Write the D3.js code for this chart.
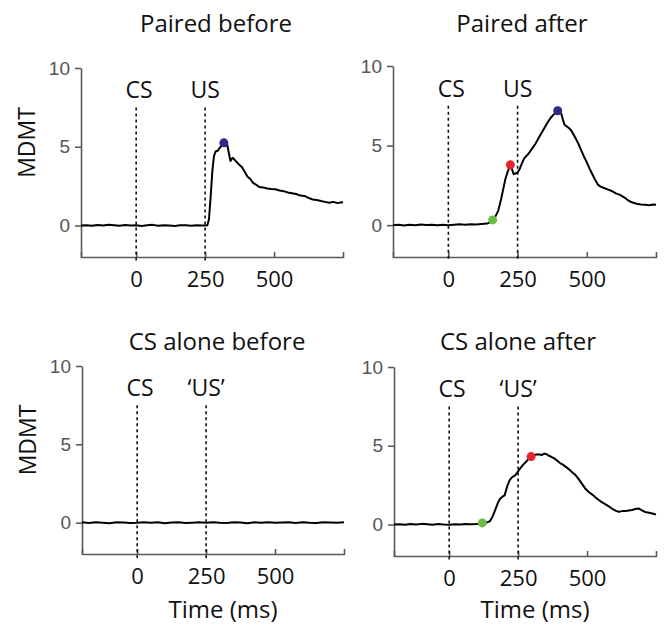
<!DOCTYPE html>
<html>
<head>
<meta charset="utf-8">
<script src="https://cdn.jsdelivr.net/npm/d3@7"></script>
<style>
  body { margin: 0; background: #fff; }
  svg { display: block; }
  .title, .ev, .xlab, .ylab { font-family: "Open Sans", sans-serif; fill: #111; }
  .yax text { font-family: "Liberation Sans", Arial, sans-serif; font-size: 19px; fill: #555; }
  .xax text { font-family: "Open Sans", sans-serif; font-size: 22px; fill: #111; }
</style>
</head>
<body>
<svg id="chart" width="664" height="626"></svg>
<script>
  //Data (time in ms, MDMT values)
  var titles = ['Paired before', 'Paired after', 'CS alone before', 'CS alone after'];
  var eventLabels = [['CS', 'US'], ['CS', 'US'], ['CS', '\u2018US\u2019'], ['CS', '\u2018US\u2019']];
  var eventTimes = [0, 250];
  var xTicks = [0, 250, 500];
  var yTicks = [0, 5, 10];

  var t_pb = [-200,-180,-160,-140,-120,-100,-80,-60,-40,-20,0,20,40,60,80,100,120,140,160,180,200,220,240,258,264,270,276,282,288,296,304,312,318,324,330,336,342,350,358,366,374,384,394,404,414,424,434,446,460,475,490,505,520,535,550,565,580,595,610,625,640,655,670,685,700,715,730,745,750];
  var v_pb = [0.0,0.02,-0.02,0.03,0.0,0.05,0.02,-0.01,0.03,0.0,0.02,-0.03,0.01,0.04,-0.01,0.02,0.0,-0.03,0.02,0.01,-0.02,0.02,0.0,0.01,0.4,1.8,3.4,4.4,4.7,4.75,4.95,5.1,5.25,5.05,5.15,4.6,4.1,4.3,4.15,4.0,3.85,3.7,3.4,3.1,2.95,2.7,2.6,2.45,2.42,2.35,2.32,2.3,2.22,2.18,2.1,2.05,2.0,1.9,1.88,1.75,1.65,1.62,1.55,1.5,1.45,1.5,1.42,1.48,1.46];

  var t_pa = [-200,-180,-160,-140,-120,-100,-80,-60,-40,-20,0,20,40,60,80,100,120,140,150,160,170,180,190,198,206,214,220,224,230,236,242,250,258,266,274,282,290,298,306,314,322,330,340,350,360,370,380,388,395,402,408,414,420,428,436,444,452,460,470,480,490,500,510,520,530,540,550,560,575,590,605,620,635,650,665,680,695,710,725,740,750];
  var v_pa = [0.0,0.03,-0.02,0.02,0.0,0.04,0.01,0.03,-0.01,0.02,0.0,0.03,0.05,0.02,0.06,0.04,0.08,0.1,0.18,0.33,0.55,0.9,1.6,2.25,2.9,3.35,3.6,3.79,3.5,3.2,3.25,3.3,3.55,3.9,4.2,4.35,4.5,4.7,4.9,5.1,5.35,5.6,5.9,6.2,6.5,6.75,6.95,7.05,7.19,7.15,7.0,6.6,6.3,6.2,6.1,5.95,5.7,5.45,5.1,4.7,4.3,3.95,3.55,3.2,2.85,2.55,2.42,2.35,2.25,2.15,2.0,1.9,1.75,1.55,1.42,1.35,1.3,1.28,1.25,1.3,1.28];

  var t_cb = [-200,-175,-150,-125,-100,-75,-50,-25,0,25,50,75,100,125,150,175,200,225,250,275,300,325,350,375,400,425,450,475,500,525,550,575,600,625,650,675,700,725,750];
  var v_cb = [0.02,-0.02,0.03,0.0,-0.03,0.02,0.01,-0.02,0.0,0.03,-0.01,0.02,-0.03,0.01,0.03,-0.02,0.0,0.02,-0.01,0.03,0.0,-0.02,0.02,0.01,-0.03,0.02,0.0,0.03,-0.01,0.01,0.02,-0.02,0.03,0.0,-0.02,0.02,0.01,-0.01,0.02];

  var t_ca = [-200,-180,-160,-140,-120,-100,-80,-60,-40,-20,0,20,40,60,80,100,110,120,135,147,156,165,175,183,192,201,210,219,228,238,247,257,267,277,287,297,307,317,327,337,345,351,360,370,381,392,402,412,423,435,447,459,471,483,495,507,519,531,543,555,567,579,591,603,615,627,639,651,663,675,687,699,710,725,740,750];
  var v_ca = [0.0,0.02,-0.02,0.03,0.0,0.04,0.02,-0.01,0.03,0.0,-0.02,0.02,0.0,0.03,0.01,0.03,0.05,0.1,0.12,0.2,0.45,0.84,1.3,1.6,1.75,1.85,2.4,2.8,3.0,3.1,3.3,3.55,3.77,3.95,4.15,4.31,4.4,4.45,4.44,4.42,4.5,4.48,4.38,4.3,4.2,4.05,3.9,3.8,3.66,3.5,3.3,3.12,2.85,2.55,2.25,2.05,1.9,1.71,1.55,1.4,1.28,1.15,1.0,0.88,0.8,0.85,0.85,0.89,0.92,0.98,1.02,0.9,0.8,0.75,0.68,0.63];

  //Marked points: onset (green), CS response (red), peak (blue)
  var dots_pb = [{ t: 318, v: 5.25, c: 'peak' }];
  var dots_pa = [{ t: 160, v: 0.33, c: 'onset' }, { t: 224, v: 3.79, c: 'cs' }, { t: 395, v: 7.19, c: 'peak' }];
  var dots_cb = [];
  var dots_ca = [{ t: 120, v: 0.1, c: 'onset' }, { t: 297, v: 4.31, c: 'cs' }];

  var dotColor = { onset: '#6cbd45', cs: '#e5252b', peak: '#2e2b86' };

  var panels = [
    { t: t_pb, v: v_pb, dots: dots_pb, x: [81, 343], y: [257, 68], tx: 216, ty: 32, ylab: true, xlab: false },
    { t: t_pa, v: v_pa, dots: dots_pa, x: [393, 656], y: [257, 66], tx: 522, ty: 32, ylab: false, xlab: false },
    { t: t_cb, v: v_cb, dots: dots_cb, x: [82, 344], y: [554, 366], tx: 217, ty: 350, ylab: true, xlab: true },
    { t: t_ca, v: v_ca, dots: dots_ca, x: [394, 656], y: [556, 367], tx: 518, ty: 350, ylab: false, xlab: true }
  ];

  var svg = d3.select('#chart');

  panels.forEach(function(p, i){
    var x = d3.scaleLinear().domain([-200, 750]).range(p.x);
    var y = d3.scaleLinear().domain([-2, 10]).range(p.y);
    var g = svg.append('g');

    //Axes
    g.append('g').attr('class', 'yax')
      .attr('transform', 'translate(' + p.x[0] + ',0)')
      .call(d3.axisLeft(y).tickValues(yTicks).tickSize(6).tickSizeOuter(0).tickPadding(5));
    var xax = g.append('g').attr('class', 'xax')
      .attr('transform', 'translate(0,' + p.y[0] + ')')
      .call(d3.axisBottom(x).tickValues(xTicks).tickSizeInner(-5).tickSizeOuter(-5).tickFormat(d3.format('d')));
    xax.selectAll('text').attr('y', 30).attr('dy', null);
    g.selectAll('.domain, .tick line').attr('stroke', '#5a5a5a').attr('stroke-width', 1.6);

    //Event markers
    eventTimes.forEach(function(et, j){
      g.append('line')
        .attr('x1', x(et)).attr('x2', x(et))
        .attr('y1', y(7.5)).attr('y2', p.y[0] + 4)
        .attr('stroke', '#111').attr('stroke-width', 1.6).attr('stroke-dasharray', '3,3');
      g.append('text').attr('class', 'ev')
        .attr('x', x(et) + (j === 0 ? 3 : 0)).attr('y', y(7.5) - 9)
        .attr('text-anchor', 'middle').style('font-size', '23px')
        .text(eventLabels[i][j]);
    });

    //Trace
    var line = d3.line().x(function(d){ return x(d[0]); }).y(function(d){ return y(d[1]); });
    g.append('path').datum(d3.zip(p.t, p.v))
      .attr('d', line).attr('fill', 'none')
      .attr('stroke', '#000').attr('stroke-width', 2).attr('stroke-linejoin', 'round');

    g.selectAll('.dot').data(p.dots).enter().append('circle')
      .attr('cx', function(d){ return x(d.t); })
      .attr('cy', function(d){ return y(d.v); })
      .attr('r', 4.5)
      .attr('fill', function(d){ return dotColor[d.c]; });

    //Labels
    g.append('text').attr('class', 'title')
      .attr('x', p.tx).attr('y', p.ty).attr('text-anchor', 'middle')
      .style('font-size', '24px').text(titles[i]);

    if(p.ylab){
      var cy = (p.y[0] + p.y[1]) / 2 - 20;
      g.append('text').attr('class', 'ylab')
        .attr('transform', 'translate(' + (p.x[0] - 46) + ',' + cy + ') rotate(-90)')
        .attr('text-anchor', 'middle').style('font-size', '23px').text('MDMT');
    }
    if(p.xlab){
      g.append('text').attr('class', 'xlab')
        .attr('x', (p.x[0] + p.x[1]) / 2 + 10).attr('y', 618).attr('text-anchor', 'middle')
        .style('font-size', '24px').text('Time (ms)');
    }
  });
</script>
</body>
</html>
